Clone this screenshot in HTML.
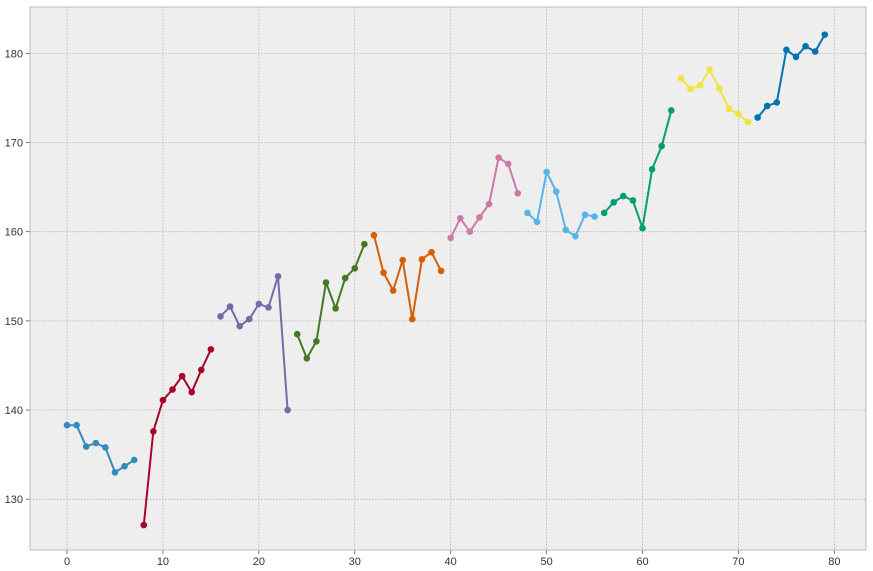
<!DOCTYPE html>
<html><head><meta charset="utf-8"><style>
html,body{margin:0;padding:0;background:#fff;}
svg{display:block;font-family:"Liberation Sans","DejaVu Sans",sans-serif;}
</style></head><body>
<svg id="chart" width="873" height="571"></svg>
<script>
const xTicks = [0,10,20,30,40,50,60,70,80];
const yTicks = [130,140,150,160,170,180];
const seriesColors = ["#348ABD","#A60628","#7A68A6","#467821","#D55E00","#CC79A7","#56B4E9","#009E73","#F0E442","#0072B2"];
const seriesStarts = [0,8,16,24,32,40,48,56,64,72];
const s0 = [138.3,138.3,135.9,136.3,135.8,133.0,133.7,134.4];
const s1 = [127.1,137.6,141.1,142.3,143.8,142.0,144.5,146.8];
const s2 = [150.5,151.6,149.4,150.2,151.9,151.5,155.0,140.0];
const s3 = [148.5,145.8,147.7,154.3,151.4,154.8,155.9,158.6];
const s4 = [159.6,155.4,153.4,156.8,150.2,156.9,157.7,155.6];
const s5 = [159.3,161.5,160.0,161.6,163.1,168.3,167.6,164.3];
const s6 = [162.1,161.1,166.7,164.5,160.2,159.5,161.9,161.7];
const s7 = [162.1,163.3,164.0,163.5,160.4,167.0,169.6,173.6];
const s8 = [177.2,176.0,176.4,178.2,176.1,173.8,173.2,172.3];
const s9 = [172.8,174.1,174.5,180.4,179.6,180.8,180.2,182.1];
const allSeries = [s0,s1,s2,s3,s4,s5,s6,s7,s8,s9];

const L=30,R=866,T=7,B=550;
const xMin=-3.86,xMax=83.3,yMin=124.3,yMax=185.2;
const xs=v=>L+(v-xMin)/(xMax-xMin)*(R-L);
const ys=v=>B-(v-yMin)/(yMax-yMin)*(B-T);
const NS="http://www.w3.org/2000/svg";
const svg=document.getElementById('chart');
function mk(tag,attrs,parent){const e=document.createElementNS(NS,tag);for(const k in attrs)e.setAttribute(k,attrs[k]);(parent||svg).appendChild(e);return e;}

const bg=mk('rect',{x:L,y:T,width:R-L,height:B-T,fill:'#eeeeee'});



xTicks.forEach(t=>{
  const g=mk('line',{x1:xs(t),x2:xs(t),y1:T,y2:B,stroke:'#b2b2b2','stroke-width':0.8,'stroke-dasharray':'1.5,1.5'});
  
  
  const tk=mk('line',{x1:xs(t),x2:xs(t),y1:B,y2:B+4,stroke:'#555','stroke-width':0.8});
  
  
  const tx=mk('text',{x:xs(t),y:B+15,'text-anchor':'middle','font-size':11,fill:'#333'});
  tx.textContent=t;
  
  
});
yTicks.forEach(t=>{
  const g=mk('line',{x1:L,x2:R,y1:ys(t),y2:ys(t),stroke:'#b2b2b2','stroke-width':0.8,'stroke-dasharray':'1.5,1.5'});
  
  
  const tk=mk('line',{x1:L-4,x2:L,y1:ys(t),y2:ys(t),stroke:'#555','stroke-width':0.8});
  
  
  const tx=mk('text',{x:L-7,y:ys(t)+4,'text-anchor':'end','font-size':11,fill:'#333'});
  tx.textContent=t;
  
  
});

allSeries.forEach((vals,si)=>{
  const c=seriesColors[si], st=seriesStarts[si];
  const grp=mk('g',{});
  
  
  const pts=vals.map((v,i)=>xs(st+i).toFixed(1)+','+ys(v).toFixed(1)).join(' ');
  const pl=mk('polyline',{points:pts,fill:'none',stroke:c,'stroke-width':2,'stroke-linejoin':'round'},grp);
  
  
  vals.forEach((v,i)=>{
    const p=mk('circle',{cx:xs(st+i),cy:ys(v),r:3.3,fill:c},grp);
    
    
  });
});

const fr=mk('rect',{x:L,y:T,width:R-L,height:B-T,fill:'none',stroke:'#bcbcbc','stroke-width':1});


</script>
</body></html>
